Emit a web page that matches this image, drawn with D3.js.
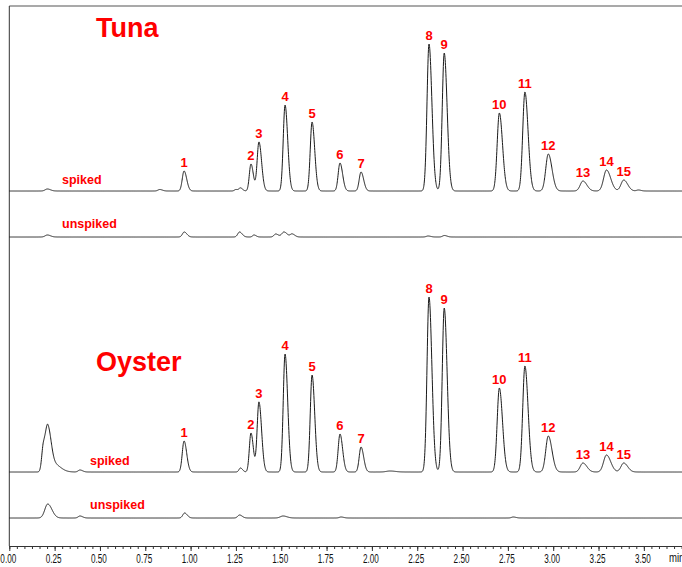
<!DOCTYPE html>
<html><head><meta charset="utf-8">
<script src="https://cdn.jsdelivr.net/npm/d3@7"></script>
<style>
html,body{margin:0;padding:0;background:#fff;overflow:hidden}
svg{display:block}
.tick text{font-family:"Liberation Sans",Arial,sans-serif;font-size:12px;fill:#111}
</style></head>
<body>
<script>
// ---------------- data ----------------
const peakLabels = ["1","2","3","4","5","6","7","8","9","10","11","12","13","14","15"];
const peakTimes  = [0.964,1.333,1.377,1.521,1.670,1.824,1.940,2.315,2.399,2.703,2.844,2.973,3.164,3.294,3.389];
const peakSigmas = [0.010,0.009,0.010,0.010,0.010,0.010,0.010,0.011,0.011,0.012,0.012,0.014,0.015,0.016,0.015];
const tunaSpikedHeights   = [20,27,49,86,69,28,19,147,138,78,99,37,10,21,11];
const oysterSpikedHeights = [31,39,70,118,97,38,25,175,164,84,106,36,9,17,9];

// small matrix / background bumps
const tunaSpikedExtraTimes    = [0.21,0.83,1.25,1.275,3.47];
const tunaSpikedExtraHeights  = [2,1.5,1.5,3,1];
const tunaSpikedExtraSigmas   = [0.012,0.01,0.008,0.008,0.01];
const tunaBlankTimes   = [0.21,0.965,1.27,1.35,1.47,1.515,1.56,2.31,2.40];
const tunaBlankHeights = [2,5,5,2,3,5,3,1,1.5];
const tunaBlankSigmas  = [0.012,0.01,0.01,0.008,0.01,0.012,0.01,0.01,0.01];
const oysterSpikedExtraTimes   = [0.188,0.213,0.245,0.39,1.275,2.1];
const oysterSpikedExtraHeights = [25,40,8,2,4,1];
const oysterSpikedExtraSigmas  = [0.009,0.012,0.025,0.01,0.008,0.02];
const oysterBlankTimes   = [0.212,0.39,0.967,1.27,1.51,1.83,2.78];
const oysterBlankHeights = [14,2,5,3,2,1,1];
const oysterBlankSigmas  = [0.016,0.01,0.01,0.01,0.015,0.01,0.01];

const tickValues = [0,0.25,0.5,0.75,1,1.25,1.5,1.75,2,2.25,2.5,2.75,3,3.25,3.5];
const sampleNames = ["Tuna","Oyster"];
const traceNames = ["spiked","unspiked"];
const axisUnit = "min";

// ---------------- layout ----------------
const W = 682, H = 567;
const x = d3.scaleLinear().domain([0, 1]).range([9.3, 190.6]);
const y = d3.scaleLinear().domain([0, 200]).range([0, -200]);
const baseTunaSpiked = 191, baseTunaBlank = 237, baseOysterSpiked = 472, baseOysterBlank = 518;
const axisY = 546, topY = 6;
const tailFactor = 1.45;

function shape(t, t0, s){
  const d = t - t0;
  const ss = d < 0 ? s : s * tailFactor;
  return Math.exp(-0.5 * (d/ss) * (d/ss));
}
function trace(times, heights, sigmas){
  const pts = [];
  for (let i = 0; i <= 3800; i++){
    const t = i / 1000;
    let v = 0;
    times.forEach((t0, k) => { v += heights[k] * shape(t, t0, sigmas[k]); });
    pts.push([t, v]);
  }
  return pts;
}

const svg = d3.select("body").append("svg").attr("width", W).attr("height", H);

// frame
svg.append("line").attr("x1", x(0)).attr("x2", W).attr("y1", topY).attr("y2", topY)
  .attr("stroke", "#8c8c8c").attr("stroke-width", 1.5);
svg.append("line").attr("x1", x(0)).attr("x2", x(0)).attr("y1", topY).attr("y2", axisY)
  .attr("stroke", "#333").attr("stroke-width", 1);

// axes
const minor = d3.range(0, 3.76, 0.25/6);
svg.append("g").attr("transform", `translate(0,${axisY})`)
  .call(d3.axisBottom(x).tickValues(minor).tickSize(3).tickFormat(""))
  .call(g => g.select(".domain").remove())
  .selectAll("line").attr("stroke", "#333");
const ax = svg.append("g").attr("transform", `translate(0,${axisY})`)
  .call(d3.axisBottom(x).tickValues(tickValues).tickSize(5).tickPadding(3).tickFormat(d3.format(".2f")).tickSizeOuter(0));
ax.select(".domain").attr("stroke", "#333");
ax.selectAll("line").attr("stroke", "#333");
ax.selectAll("text").attr("transform", "translate(-1.5,0) scale(0.68,1)");
svg.append("line").attr("x1", x(0)).attr("x2", W).attr("y1", axisY + 0.5).attr("y2", axisY + 0.5).attr("stroke", "#333");
svg.append("text").attr("transform", "translate(669,562) scale(0.8,1)")
  .attr("font-family", "'Liberation Sans',Arial,sans-serif").attr("font-size", 12)
  .attr("fill", "#111").text(axisUnit);

// traces
const line = d3.line().x(d => x(d[0])).y(d => y(d[1]));
const traces = [
  {base: baseTunaSpiked,   data: trace(peakTimes.concat(tunaSpikedExtraTimes), tunaSpikedHeights.concat(tunaSpikedExtraHeights), peakSigmas.concat(tunaSpikedExtraSigmas))},
  {base: baseTunaBlank,    data: trace(tunaBlankTimes, tunaBlankHeights, tunaBlankSigmas)},
  {base: baseOysterSpiked, data: trace(peakTimes.concat(oysterSpikedExtraTimes), oysterSpikedHeights.concat(oysterSpikedExtraHeights), peakSigmas.concat(oysterSpikedExtraSigmas))},
  {base: baseOysterBlank,  data: trace(oysterBlankTimes, oysterBlankHeights, oysterBlankSigmas)}
];
traces.forEach(tr => {
  svg.append("path").attr("transform", `translate(0,${tr.base})`)
    .attr("d", line(tr.data)).attr("fill", "none").attr("stroke", "#1a1a1a").attr("stroke-width", 1);
});

// peak labels
const labelFont = "'Liberation Sans',Arial,sans-serif";
[[baseTunaSpiked, tunaSpikedHeights],[baseOysterSpiked, oysterSpikedHeights]].forEach(([base, hs]) => {
  svg.append("g").selectAll("text").data(peakLabels).join("text")
    .attr("x", (d,i) => x(peakTimes[i]))
    .attr("y", (d,i) => base + y(hs[i]) - 4)
    .attr("text-anchor", "middle")
    .attr("font-family", labelFont).attr("font-weight", "bold").attr("font-size", 13)
    .attr("fill", "#ff0000").text(d => d);
});

// sample titles
svg.append("text").attr("x", 96).attr("y", 37).attr("font-family", labelFont)
  .attr("font-weight", "bold").attr("font-size", 27).attr("fill", "#ff0000").text(sampleNames[0]);
svg.append("text").attr("x", 96).attr("y", 371).attr("font-family", labelFont)
  .attr("font-weight", "bold").attr("font-size", 27).attr("fill", "#ff0000").text(sampleNames[1]);

// trace names
[[62, 184, 0],[62, 228, 1],[90, 465, 0],[90, 509, 1]].forEach(([tx, ty, k]) => {
  svg.append("text").attr("x", tx).attr("y", ty).attr("font-family", labelFont)
    .attr("font-weight", "bold").attr("font-size", 12.5).attr("fill", "#ff0000")
    .text(traceNames[k]);
});
</script>
</body></html>
